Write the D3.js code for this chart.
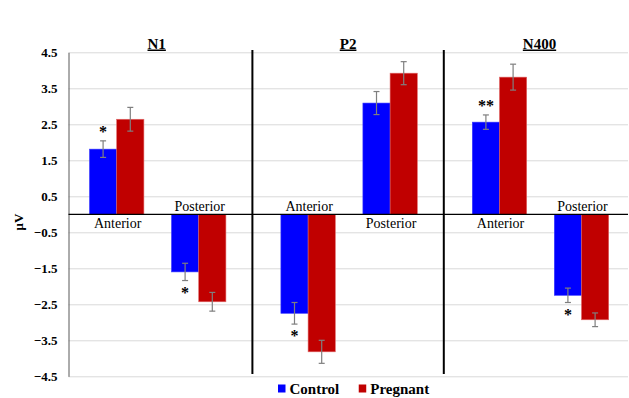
<!DOCTYPE html>
<html>
<head>
<meta charset="utf-8">
<script src="https://cdn.jsdelivr.net/npm/d3@7"></script>
<style>
  body { margin: 0; background: #fff; }
</style>
</head>
<body>
<svg id="chart" width="629" height="398"></svg>
<script>
const groups = ["N1", "P2", "N400"]
const regions = ["Anterior", "Posterior"]
const seriesNames = ["Control", "Pregnant"]
const seriesColors = ["#0000ff", "#c00000"]

// one value per group x region, in order N1-Ant, N1-Post, P2-Ant, P2-Post, N400-Ant, N400-Post
const controlMeans = [1.81, -1.60, -2.75, 3.09, 2.56, -2.25]
const controlErr = [0.23, 0.24, 0.30, 0.32, 0.20, 0.20]
const pregnantMeans = [2.64, -2.43, -3.82, 3.92, 3.81, -2.93]
const pregnantErr = [0.33, 0.26, 0.32, 0.32, 0.36, 0.19]
const controlStars = ["*", "*", "*", "", "**", "*"]

const yTicks = [4.5, 3.5, 2.5, 1.5, 0.5, -0.5, -1.5, -2.5, -3.5, -4.5]

const serif = '"Liberation Serif", "Times New Roman", serif'
const svg = d3.select("#chart")
const plotLeft = 68.5, plotRight = 628, plotTop = 52.3, plotBottom = 376.3

const y = d3.scaleLinear().domain([-4.5, 4.5]).range([plotBottom, plotTop])
const x0 = d3.scaleBand().domain(groups).range([62, 636.2])
const x1 = d3.scalePoint().domain(regions).range([0, x0.bandwidth()]).padding(0.667)
const xs = d3.scaleBand().domain(seriesNames).range([-27.2, 27.2])

const rows = []
groups.forEach((g, gi) => {
  regions.forEach((r, ri) => {
    const i = gi * 2 + ri
    rows.push({ g, r, i, cx: x0(g) + x1(r),
      vals: [
        { s: "Control", v: controlMeans[i], e: controlErr[i], star: controlStars[i] },
        { s: "Pregnant", v: pregnantMeans[i], e: pregnantErr[i], star: "" }
      ] })
  })
})

// gridlines
svg.append("g")
  .attr("transform", `translate(${plotLeft},0)`)
  .call(d3.axisLeft(y).tickValues(yTicks).tickSize(-(plotRight - plotLeft)).tickFormat(""))
  .call(g => g.select(".domain").remove())
  .call(g => g.selectAll("line").attr("stroke", "#d9d9d9").attr("stroke-width", 1))

// tick labels
svg.append("g")
  .attr("transform", `translate(${plotLeft},0)`)
  .call(d3.axisLeft(y).tickValues(yTicks).tickSize(0).tickPadding(11).tickFormat(d3.format(".1f")))
  .attr("font-family", null)
  .call(g => g.select(".domain").attr("stroke", "#595959"))
  .call(g => g.selectAll("text")
    .attr("font-size", 13)
    .attr("font-weight", "bold")
    .attr("fill", "#000"))

// y label
svg.append("text")
  .attr("transform", "translate(23,222) rotate(-90)")
  .attr("text-anchor", "middle")
  .attr("font-size", 13)
  .attr("font-weight", "bold")
  .text("μV")

// bars
const bw = xs.bandwidth()
rows.forEach(row => {
  row.vals.forEach((d, si) => {
    const bx = row.cx + xs(d.s)
    svg.append("rect")
      .attr("x", bx)
      .attr("y", y(Math.max(0, d.v)))
      .attr("width", bw)
      .attr("height", Math.abs(y(d.v) - y(0)))
      .attr("fill", seriesColors[si])
      .attr("stroke", si === 0 ? "#3a3aff" : "#e06666")
      .attr("stroke-width", 0.6)
  })
})

// zero line
svg.append("line")
  .attr("x1", plotLeft).attr("x2", plotRight)
  .attr("y1", y(0)).attr("y2", y(0))
  .attr("stroke", "#000").attr("stroke-width", 1.2)

// error bars + stars
rows.forEach(row => {
  row.vals.forEach(d => {
    const ex = row.cx + xs(d.s) + bw / 2
    const g = svg.append("g").attr("stroke", "#7f7f7f").attr("stroke-width", 1.2)
    g.append("line").attr("x1", ex).attr("x2", ex).attr("y1", y(d.v + d.e)).attr("y2", y(d.v - d.e))
    ;[d.v + d.e, d.v - d.e].forEach(v => {
      g.append("line").attr("x1", ex - 3).attr("x2", ex + 3).attr("y1", y(v)).attr("y2", y(v))
    })
    if (d.star) {
      const end = d.v >= 0 ? y(d.v + d.e) - 4 : y(d.v - d.e) + 17
      svg.append("text")
        .attr("x", ex).attr("y", end)
        .attr("text-anchor", "middle")
        .attr("font-size", 16)
        .attr("font-weight", "bold")
        .text(d.star)
    }
  })
})

// region labels on the opposite side of zero
rows.forEach(row => {
  const v = row.vals[0].v
  svg.append("text")
    .attr("x", row.cx + 1)
    .attr("y", v >= 0 ? y(0) + 13.5 : y(0) - 3.5)
    .attr("text-anchor", "middle")
    .attr("font-size", 14)
    .text(row.r)
})

// dividers
groups.slice(1).forEach(g => {
  svg.append("line")
    .attr("x1", x0(g) - 1).attr("x2", x0(g) - 1)
    .attr("y1", 50).attr("y2", 374)
    .attr("stroke", "#000").attr("stroke-width", 2)
})

// group titles
groups.forEach(g => {
  svg.append("text")
    .attr("x", x0(g) + x0.bandwidth() / 2 - 1)
    .attr("y", 48.5)
    .attr("text-anchor", "middle")
    .attr("font-size", 15)
    .attr("font-weight", "bold")
    .attr("text-decoration", "underline")
    .text(g)
})

// legend
const legend = svg.append("g").attr("transform", "translate(278,389)")
let lx = 0
seriesNames.forEach((s, i) => {
  legend.append("rect")
    .attr("x", lx).attr("y", -4.5)
    .attr("width", 7.5).attr("height", 8)
    .attr("fill", seriesColors[i])
  const t = legend.append("text")
    .attr("x", lx + 11.5).attr("y", 5)
    .attr("font-size", 15)
    .attr("font-weight", "bold")
    .style("font-family", serif)
    .text(s)
  lx += 11.5 + t.node().getComputedTextLength() + 19.5
})

svg.selectAll("text").style("font-family", serif)
</script>
</body>
</html>
